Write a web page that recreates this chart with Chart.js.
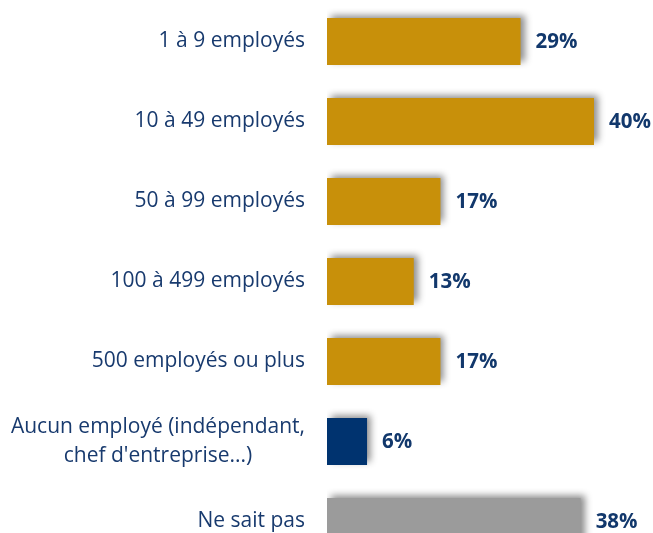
<!DOCTYPE html>
<html>
<head>
<meta charset="utf-8">
<script src="https://cdn.jsdelivr.net/npm/chart.js@4/dist/chart.umd.min.js"></script>
<style>
html, body { margin: 0; padding: 0; background: #fff; overflow: hidden; }
#wrap { position: relative; width: 653px; height: 562px; }
</style>
</head>
<body>
<div id="wrap"><canvas id="barChart"></canvas></div>
<script>
// data
const categories = [
  "1 à 9 employés",
  "10 à 49 employés",
  "50 à 99 employés",
  "100 à 499 employés",
  "500 employés ou plus",
  ["Aucun employé (indépendant,", "chef d'entreprise...)"],
  "Ne sait pas"
];
const values = [29, 40, 17, 13, 17, 6, 38];
const barColors = ["#C8900A", "#C8900A", "#C8900A", "#C8900A", "#C8900A", "#00336F", "#9B9B9B"];

const labelColor = "#183a6e";
const valueColor = "#12386c";

// soft shadow behind the bars
const barShadow = {
  id: "barShadow",
  beforeDatasetDraw(chart) {
    const ctx = chart.ctx;
    ctx.save();
    ctx.shadowColor = "rgba(0,0,0,0.45)";
    ctx.shadowBlur = 7;
    ctx.shadowOffsetX = 4;
    ctx.shadowOffsetY = -3;
  },
  afterDatasetDraw(chart) {
    chart.ctx.restore();
  }
};

// category labels, lines centred inside a right aligned block
const catLabels = {
  id: "catLabels",
  afterDraw(chart) {
    const ctx = chart.ctx;
    const y = chart.scales.y;
    const right = chart.chartArea.left - 22;
    ctx.save();
    ctx.font = "21px 'Open Sans'";
    ctx.fillStyle = labelColor;
    ctx.textAlign = "center";
    ctx.textBaseline = "middle";
    categories.forEach((c, i) => {
      const lines = Array.isArray(c) ? c : [c];
      const w = Math.max(...lines.map(l => ctx.measureText(l).width));
      const cx = right - w / 2;
      const cy = y.getPixelForValue(i);
      const lh = 29;
      lines.forEach((l, j) => {
        ctx.fillText(l, cx, cy + (j - (lines.length - 1) / 2) * lh);
      });
    });
    ctx.restore();
  }
};

// value labels at the end of each bar
const valueLabels = {
  id: "valueLabels",
  afterDraw(chart) {
    const ctx = chart.ctx;
    const meta = chart.getDatasetMeta(0);
    ctx.save();
    ctx.font = "bold 20.5px 'Open Sans'";
    ctx.fillStyle = valueColor;
    ctx.textAlign = "left";
    ctx.textBaseline = "middle";
    meta.data.forEach((bar, i) => {
      ctx.fillText(values[i] + "%", bar.x + 15, bar.y + 1);
    });
    ctx.restore();
  }
};

new Chart(document.getElementById("barChart"), {
  type: "bar",
  data: {
    labels: categories,
    datasets: [{
      data: values,
      backgroundColor: barColors,
      borderWidth: 0,
      categoryPercentage: 1,
      barPercentage: 0.59
    }]
  },
  options: {
    indexAxis: "y",
    responsive: true,
    maintainAspectRatio: false,
    animation: false,
    layout: { padding: { top: 1.5, bottom: 0.5, right: 5.6, left: 0 } },
    plugins: {
      legend: { display: false },
      tooltip: { enabled: false }
    },
    scales: {
      x: { display: false, min: 0, max: 48 },
      y: {
        grid: { display: false },
        border: { display: false },
        ticks: { display: false },
        afterFit(scale) { scale.width = 327; }
      }
    }
  },
  plugins: [barShadow, catLabels, valueLabels]
});
</script>
</body>
</html>
